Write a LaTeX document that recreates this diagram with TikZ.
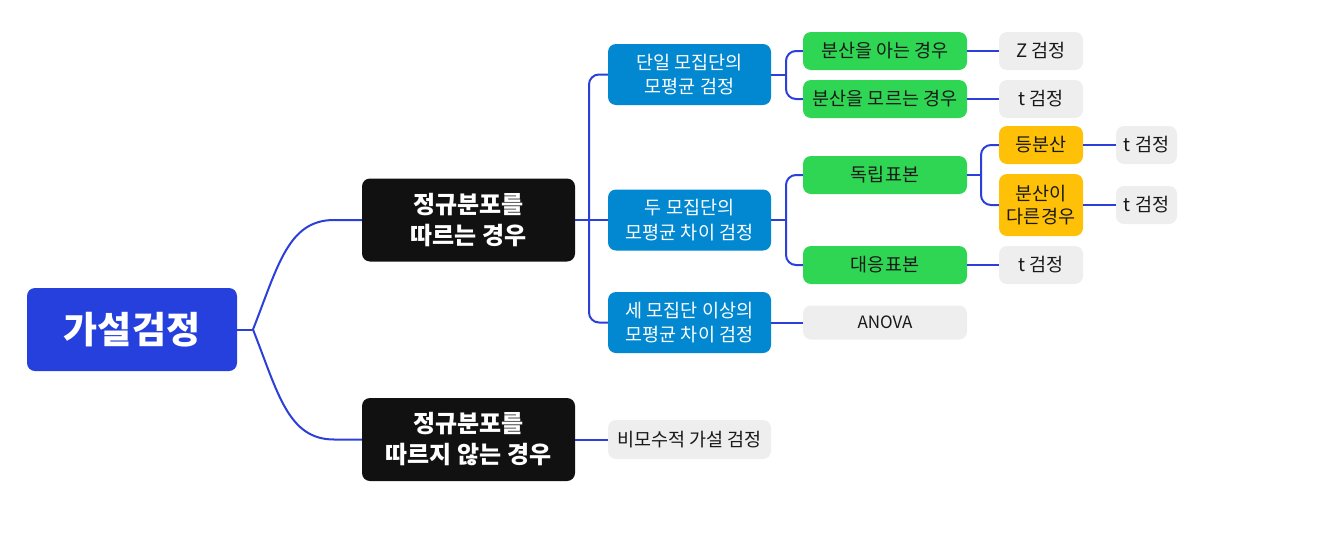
\documentclass[tikz,border=0pt]{standalone}
\usepackage{fontspec}
\setmainfont{Noto Sans CJK KR}
\definecolor{rootblue}{HTML}{2540DC}
\definecolor{darkbox}{HTML}{111111}
\definecolor{midblue}{HTML}{0288D1}
\definecolor{leafgreen}{HTML}{2ED653}
\definecolor{amber}{HTML}{FFC107}
\definecolor{lightgray}{HTML}{EEEEEE}
\definecolor{linkblue}{HTML}{2B3FD9}
\begin{document}
\begin{tikzpicture}[x=1pt,y=-1pt,
  box/.style={rounded corners=8pt, inner sep=0pt, align=center, font=\fontsize{18.5}{24.5}\selectfont},
  rootbox/.style={box, fill=rootblue, text=white, minimum width=210pt, minimum height=83pt, font=\fontsize{37}{44}\selectfont\bfseries},
  catbox/.style={box, fill=darkbox, text=white, minimum width=213pt, minimum height=83pt, font=\fontsize{24}{31}\selectfont\bfseries},
  subbox/.style={box, fill=midblue, text=white, minimum width=163pt, minimum height=61pt},
  greenbox/.style={box, fill=leafgreen, text=black!90, minimum width=164pt, minimum height=38pt},
  amberbox/.style={box, fill=amber, text=black!90},
  graybox/.style={box, fill=lightgray, text=black!90},
  link/.style={draw=linkblue, line width=2pt},
  forklink/.style={link, rounded corners=10pt}
]
\useasboundingbox (0,0) rectangle (1317,544);

\node[rootbox] (root) at (132,329.5) {가설검정};
\node[catbox] (b1) at (468.5,220) {정규분포를\\따르는 경우};
\node[catbox] (b2) at (468.5,439.5) {정규분포를\\따르지 않는 경우};

\node[subbox] (p1) at (689.5,74.5) {단일 모집단의\\모평균 검정};
\node[subbox] (p2) at (689.5,220) {두 모집단의\\모평균 차이 검정};
\node[subbox] (p3) at (689.5,322.5) {세 모집단 이상의\\모평균 차이 검정};
\node[graybox, minimum width=163pt, minimum height=39pt] (np) at (689.5,439.5) {비모수적 가설 검정};

\node[greenbox] (g1) at (885,51) {분산을 아는 경우};
\node[greenbox] (g2) at (885,99) {분산을 모르는 경우};
\node[greenbox] (g3) at (885,175) {독립표본};
\node[greenbox] (g4) at (885,265) {대응표본};
\node[graybox, minimum width=164pt, minimum height=34pt, font=\fontsize{17}{20}\selectfont] (anova) at (885,322.5) {ANOVA};

\node[graybox, minimum width=84pt, minimum height=38pt] (z) at (1041,51) {Z 검정};
\node[graybox, minimum width=84pt, minimum height=38pt] (t1) at (1041,99) {t 검정};
\node[amberbox, minimum width=84pt, minimum height=38pt] (o1) at (1041,145) {등분산};
\node[amberbox, minimum width=84pt, minimum height=62pt, font=\fontsize{18.5}{23.5}\selectfont] (o2) at (1041,205) {분산이\\다른경우};
\node[graybox, minimum width=84pt, minimum height=38pt] (t4) at (1041,265) {t 검정};
\node[graybox, minimum width=61pt, minimum height=38pt] (t2) at (1146.5,145) {t 검정};
\node[graybox, minimum width=61pt, minimum height=38pt] (t3) at (1146.5,205) {t 검정};

\coordinate (f0) at (253,329.5);
\coordinate (f1) at (589,220);
\coordinate (f2) at (786,74.5);
\coordinate (f3) at (786,220);
\coordinate (f4) at (981,175);

\draw[link] (root.east) -- (f0);
\draw[link] (f0) .. controls (278,266) and (288,220) .. (334,220) -- (b1.west);
\draw[link] (f0) .. controls (278,393) and (288,439.5) .. (334,439.5) -- (b2.west);

\draw[link] (b1.east) -- (p2.west);
\draw[forklink] (p1.west) -| (f1) |- (p3.west);
\draw[link] (b2.east) -- (np.west);

\draw[link] (p1.east) -- (f2);
\draw[forklink] (g1.west) -| (f2) |- (g2.west);
\draw[link] (p2.east) -- (f3);
\draw[forklink] (g3.west) -| (f3) |- (g4.west);
\draw[link] (p3.east) -- (anova.west);

\draw[link] (g1.east) -- (z.west);
\draw[link] (g2.east) -- (t1.west);
\draw[link] (g4.east) -- (t4.west);
\draw[link] (g3.east) -- (f4);
\draw[forklink] (o1.west) -| (f4) |- (o2.west);
\draw[link] (o1.east) -- (t2.west);
\draw[link] (o2.east) -- (t3.west);
\end{tikzpicture}
\end{document}
